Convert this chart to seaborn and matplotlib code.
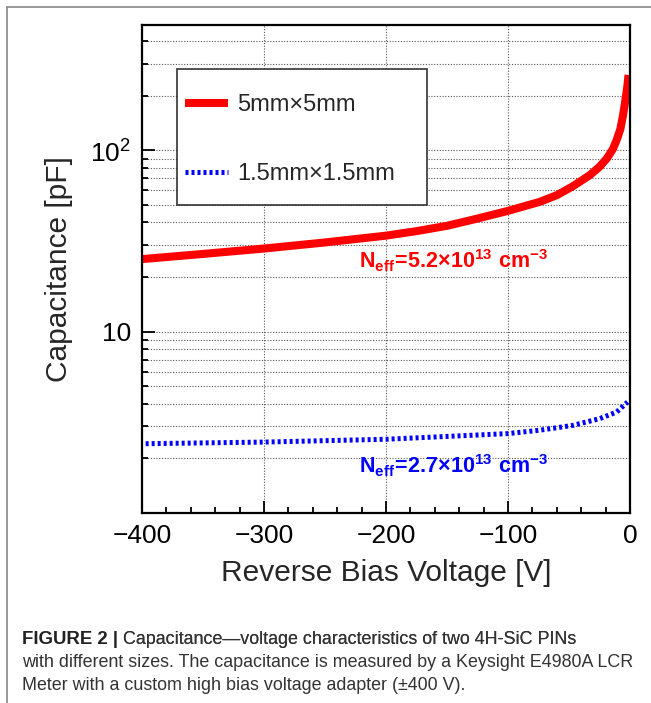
import matplotlib
matplotlib.use("Agg")
import matplotlib.pyplot as plt
import seaborn as sns
from matplotlib.ticker import NullFormatter
from matplotlib.patches import Rectangle

# C-V data
volt_5mm = [-400, -350, -300, -250, -200, -175, -150, -125, -100, -74, -60, -47, -33, -25,
            -19, -14, -11, -8, -6, -4.5, -3, -2, -1.2]
cap_5mm = [25.1, 26.8, 28.7, 31.0, 33.8, 35.8, 38.3, 42.0, 46.3, 51.9, 56.5, 63.2, 72.8, 81.0,
           90.0, 101.5, 113.5, 130.0, 152.0, 175.0, 206.0, 230.0, 260.0]

volt_15mm = [-397, -300, -200, -100, -74, -47, -25, -11, -2]
cap_15mm = [2.41, 2.46, 2.55, 2.74, 2.86, 3.04, 3.31, 3.60, 4.09]

labels = ["5mm\u00d75mm", "1.5mm\u00d71.5mm"]
y_minor = [2, 3, 4, 5, 6, 7, 8, 9, 20, 30, 40, 50, 60, 70, 80, 90, 200, 300, 400]

sns.set_theme(style="white")
plt.rcParams["font.family"] = ["Liberation Sans", "DejaVu Sans"]
plt.rcParams["mathtext.fontset"] = "custom"
plt.rcParams["mathtext.rm"] = "Liberation Sans"
plt.rcParams["mathtext.bf"] = "Liberation Sans:bold"

fig = plt.figure(figsize=(6.51, 7.03), dpi=100)
ax = fig.add_axes([142 / 651, 1 - 513 / 703, 488 / 651, 488 / 703])

sns.lineplot(x=volt_5mm, y=cap_5mm, ax=ax, color="#ff0000", lw=5.8,
             label=labels[0], solid_capstyle="butt")
sns.lineplot(x=volt_15mm, y=cap_15mm, ax=ax, color="#0000ff", lw=3.6,
             label=labels[1], linestyle=(0, (0.6, 0.6)))

ax.set_yscale("log")
ax.set_xlim(-400, 0)
ax.set_ylim(1, 490)
ax.set_xticks([-400, -300, -200, -100, 0])
ax.set_xticks(range(-380, 0, 20), minor=True)
ax.set_yticks([10, 100], labels=["10", r"$10^{2}$"])
ax.set_yticks(y_minor, minor=True)
ax.yaxis.set_minor_formatter(NullFormatter())

ax.grid(True, which="both", axis="y", color="#555555", lw=0.8, linestyle=(0, (1, 1.5)))
ax.grid(True, which="major", axis="x", color="#555555", lw=0.8, linestyle=(0, (1, 1.5)))

ax.tick_params(which="both", direction="in", left=True, bottom=True, right=False, top=False,
               colors="black", labelsize=19, width=1.3)
ax.tick_params(which="major", length=9, pad=8)
ax.tick_params(which="minor", length=4.5)
for s in ax.spines.values():
    s.set_color("black")
    s.set_linewidth(1.6)

ax.set_xlabel("Reverse Bias Voltage [V]", fontsize=21.5, labelpad=8)
ax.set_ylabel("Capacitance [pF]", fontsize=21.5, labelpad=12)

# legend box drawn by hand, legend itself frameless inside it
box = Rectangle((35 / 488, 308 / 488), 250 / 488, 136 / 488, transform=ax.transAxes,
                facecolor="white", edgecolor="#333333", lw=1.2, zorder=4)
ax.add_patch(box)
leg = ax.legend(loc="upper left", bbox_to_anchor=(43 / 488, 419 / 488), fontsize=17,
                frameon=False, handlelength=1.82, handletextpad=0.38, borderpad=0,
                labelspacing=1.99, borderaxespad=0)
leg.set_zorder(5)

ax.text(-222, 22.3, r"$\mathbf{N_{eff}\!=\!5.2{\times}10^{13}\ cm^{-3}}$", color="#ff0000",
        fontsize=15.5, ha="left", va="baseline")
ax.text(-222, 1.65, r"$\mathbf{N_{eff}\!=\!2.7{\times}10^{13}\ cm^{-3}}$", color="#0000ff",
        fontsize=15.5, ha="left", va="baseline")

# panel border lines
fig.add_artist(plt.Line2D([7 / 651, 1], [1 - 7 / 703, 1 - 7 / 703], color="#888888", lw=1.2))
fig.add_artist(plt.Line2D([7 / 651, 7 / 651], [0, 1 - 7 / 703], color="#888888", lw=1.2))

# caption
cap_size = 12.9
t1 = fig.text(22 / 651, 1 - 644 / 703, "FIGURE 2 |", fontsize=13.4, fontweight="bold",
              ha="left", va="baseline", color="#222222")
fig.add_artist(plt.annotate(" Capacitance\u2014voltage characteristics of two 4H-SiC PINs",
                            xy=(1, 0), xycoords=t1, fontsize=cap_size, ha="left", va="bottom",
                            color="#333333", annotation_clip=False))
fig.text(22 / 651, 1 - 667 / 703,
         "with different sizes. The capacitance is measured by a Keysight E4980A LCR",
         fontsize=cap_size, ha="left", va="baseline", color="#333333")
fig.text(22 / 651, 1 - 690 / 703,
         "Meter with a custom high bias voltage adapter (\u00b1400 V).",
         fontsize=cap_size, ha="left", va="baseline", color="#333333")

fig.savefig("out.png", dpi=100)
